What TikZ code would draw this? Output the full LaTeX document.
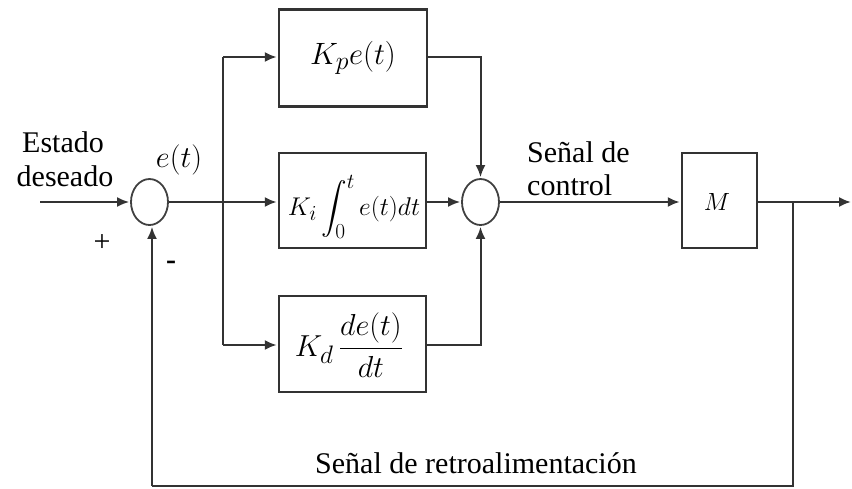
\documentclass[tikz,border=0pt]{standalone}
\usepackage{amsmath}
\usepackage{graphicx}
\usepackage{fontspec}
\setmainfont{Liberation Serif}
\usetikzlibrary{arrows.meta,shapes.geometric}
\begin{document}
\begin{tikzpicture}[x=1pt,y=-1pt,
  line/.style={draw=black!80,line width=2pt},
  arr/.style={line,-{Latex[length=12pt,width=10pt]},shorten >=1pt},
  blk/.style={draw=black!80,line width=2.5pt,fill=white,inner sep=0pt},
  sumnode/.style={ellipse,draw=black!75,line width=1.8pt,minimum width=37pt,minimum height=46pt,inner sep=0pt},
  lbl/.style={font=\fontsize{30}{36}\selectfont,inner sep=0pt},
  mth/.style={font=\fontsize{24.88}{30}\selectfont,inner sep=0pt}]
\useasboundingbox (0,0) rectangle (852,488);
% blocks
\node[blk,minimum width=148pt,minimum height=97pt] (kp) at (353,58) {};
\node[mth] (kpt) at (353,58) {\scalebox{1.24}{$K_p e(t)$}};
\node[blk,minimum width=147pt,minimum height=95pt] (ki) at (352.5,200.5) {};
\node[mth] (kit) at (354,207) {\scalebox{1.03}{$K_i \displaystyle\int_0^t e(t)dt$}};
\node[blk,minimum width=147pt,minimum height=96pt] (kd) at (352.5,344) {};
\node[mth] (kdt) at (349,345) {\scalebox{1.22}{$K_d \,\displaystyle\frac{de(t)}{dt}$}};
\node[blk,minimum width=75pt,minimum height=95pt] (m) at (719.5,200.5) {};
\node[mth] (mt) at (717,202) {$M$};
% summing junctions
\node[sumnode] (s1) at (149.5,202) {};
\node[sumnode] (s2) at (480.5,202) {};
% coordinates
\coordinate (in) at (40,202);
\coordinate (bt) at (223,57);
\coordinate (bb) at (223,345);
\coordinate (out) at (852,202);
\coordinate (fb) at (793,202);
\coordinate (fbr) at (793,486);
\coordinate (fbl) at (152,486);
% connectors
\draw[arr] (in) -- (s1.west);
\draw[arr] (s1.east) -- (ki.west|-s1);
\draw[line] (bt) -- (bb);
\draw[arr] (bt) -- (kp.west|-bt);
\draw[arr] (bb) -- (kd.west|-bb);
\draw[arr] (kp.east|-bt) -| (s2.north);
\draw[arr] (ki.east|-s2) -- (s2.west);
\draw[arr] (kd.east|-bb) -| (s2.south);
\draw[arr] (s2.east) -- (m.west|-s2);
\draw[arr] (m.east|-s2) -- (out);
\draw[line] (fb) -- (fbr) -- (fbl);
\draw[arr] (fbl) -- (fbl|-s1.south);
% labels
\node[lbl] (l1) at (63,142) {Estado};
\node[lbl] (l2) at (65,176) {deseado};
\node[mth] (et) at (179,160) {\scalebox{1.22}{$e(t)$}};
\node[lbl] (pl) at (102,243) {+};
\node[lbl,font=\fontsize{30}{36}\selectfont\bfseries] (mi) at (171,265) {-};
\node[lbl,anchor=west] (sc1) at (527,152) {Señal de};
\node[lbl,anchor=west] (sc2) at (527,185) {control};
\node[lbl] (sr) at (476,463) {Señal de retroalimentación};
\end{tikzpicture}
\end{document}
